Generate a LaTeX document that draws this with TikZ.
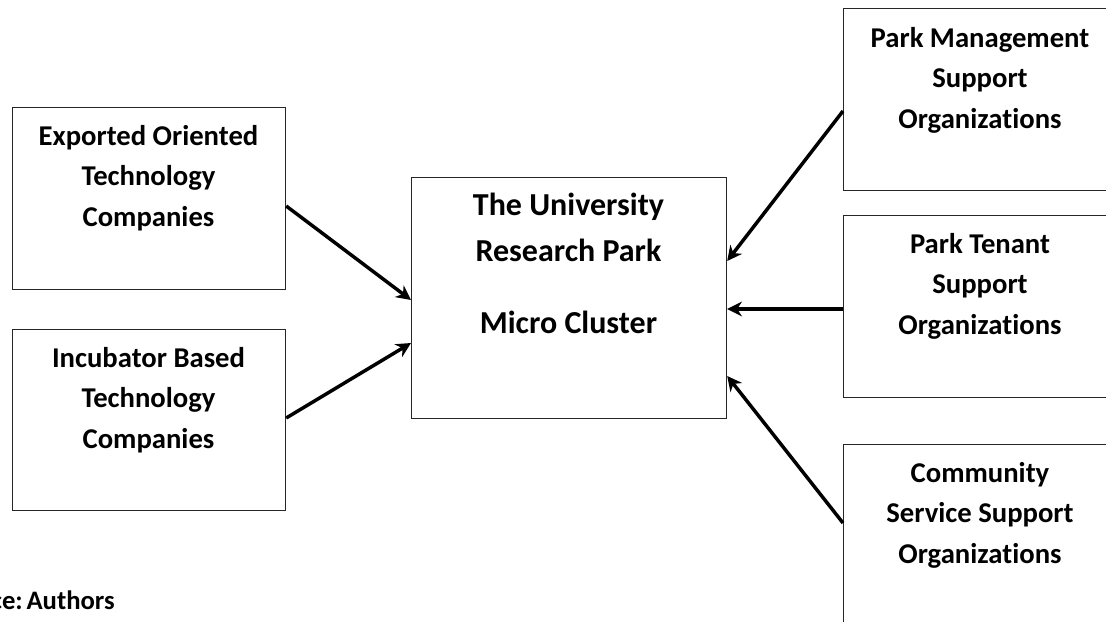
\documentclass[tikz,border=0pt]{standalone}
\usepackage{fontspec}
\setmainfont{Carlito}[Ligatures=NoCommon]
\usetikzlibrary{arrows.meta,calc}
\begin{document}
\begin{tikzpicture}[x=0.75pt,y=-0.75pt,
  box/.style={draw=black!85, line width=0.9pt, inner sep=0pt, anchor=north west},
  lbl/.style={font=\fontsize{21.5}{30.4}\selectfont\bfseries, align=flush center, anchor=base, inner sep=0pt, text width=200pt},
  clbl/.style={lbl, text width=230pt, font=\fontsize{24}{34.5}\selectfont\bfseries},
  arr/.style={line width=2.6pt, -{Stealth[length=11pt,width=11pt,inset=3.5pt]}}]
\useasboundingbox (0,0) rectangle (1106,621);
\clip (0,0) rectangle (1106,621);
% boxes
\node[box, minimum width=204.75pt, minimum height=136.5pt] (exp) at (12,107) {};
\node[box, minimum width=204.75pt, minimum height=135.75pt] (inc) at (12,329) {};
\node[box, minimum width=236.25pt, minimum height=180.75pt] (cen) at (411,177) {};
\node[box, minimum width=205.5pt, minimum height=136.5pt] (pm) at (843,8) {};
\node[box, minimum width=205.5pt, minimum height=136.5pt] (pt) at (843,215) {};
\node[box, minimum width=205.5pt, minimum height=136.5pt] (cs) at (843,444) {};
% texts
\node[lbl] (texp) at (148.5,145) {Exported Oriented\\Technology\\Companies};
\node[lbl] (tinc) at (148.5,367) {Incubator Based\\Technology\\Companies};
\node[clbl] (tcen) at (568.5,215) {The University\\Research Park\\[19.5pt]Micro Cluster};
\node[lbl] (tpm) at (980,47) {Park Management\\Support\\Organizations};
\node[lbl] (tpt) at (980,253) {Park Tenant\\Support\\Organizations};
\node[lbl] (tcs) at (980,482) {Community\\Service Support\\Organizations};
\node[font=\fontsize{20}{22}\selectfont\bfseries, anchor=base east, inner sep=0pt] (src) at (115,609) {Source:\hspace{0.14em}Authors};
% arrows
\draw[arr] ($(exp.north east)+(0,99)$) -- ($(cen.north west)+(0,123)$);
\draw[arr] ($(inc.north east)+(0,89)$) -- ($(cen.north west)+(0,166)$);
\draw[arr] ($(pm.north west)+(0,103)$) -- ($(cen.north east)+(0,84)$);
\draw[arr] ($(pt.north west)+(0,94)$) -- ($(cen.north east)+(0,132)$);
\draw[arr] ($(cs.north west)+(0,79)$) -- ($(cen.north east)+(0,199)$);
\end{tikzpicture}
\end{document}
